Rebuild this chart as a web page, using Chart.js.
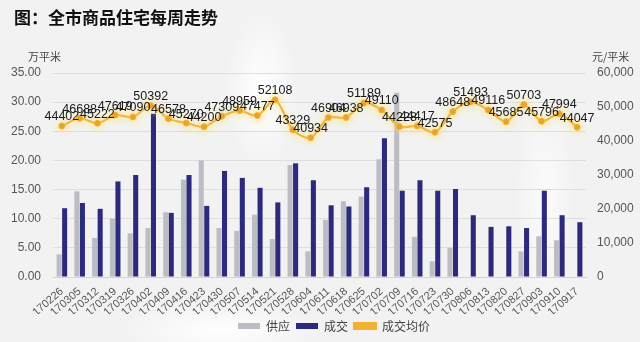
<!DOCTYPE html>
<html><head><meta charset="utf-8">
<script src="https://cdn.jsdelivr.net/npm/chart.js@4"></script>
<style>
html,body{margin:0;padding:0;background:#f3f3f3;}
#wrap{position:relative;width:640px;height:342px;overflow:hidden;background:
 radial-gradient(ellipse 38px 80px at 262px 90px,#ffffff,rgba(255,255,255,0)),
 radial-gradient(ellipse 100px 28px at 220px 330px,#ffffff,rgba(255,255,255,0)),
 radial-gradient(ellipse 30px 120px at 545px 200px,#fbfbfb,rgba(255,255,255,0)),
 #f2f2f2;}
#title{position:absolute;left:14px;top:4px;font:bold 17px "Noto Sans CJK SC";color:#111;}
.unit{position:absolute;top:48px;font:11px "Noto Sans CJK SC";color:#444;}
canvas{position:absolute;left:0;top:0;}
</style></head><body>
<div id="wrap">
<canvas id="c" width="640" height="342"></canvas>
<div id="title">图：全市商品住宅每周走势</div>
<div class="unit" style="left:28px">万平米</div>
<div class="unit" style="left:592px">元/平米</div>
</div>
<script>
const categories=["170226","170305","170312","170319","170326","170402","170409","170416","170423","170430","170507","170514","170521","170528","170604","170611","170618","170625","170702","170709","170716","170723","170730","170806","170813","170820","170827","170903","170910","170917"];
const supply=[3.9,14.7,6.7,10.0,7.5,8.4,11.1,16.7,20.0,8.4,7.9,10.7,6.5,19.2,4.4,9.8,13.0,13.8,20.2,31.6,6.9,2.7,5.0,0,0,0,4.4,7.0,6.3,0];
const deal=[11.8,12.7,11.7,16.4,17.5,28.0,11.0,17.5,12.2,18.2,17.0,15.3,12.8,19.5,16.6,12.3,12.1,15.4,23.8,14.8,16.6,14.8,15.1,10.6,8.6,8.7,8.4,14.8,10.6,9.4];
const price=[44402,46688,45222,47619,47090,50392,46578,45270,44200,47309,48959,47477,52108,43329,40934,46904,46938,51189,49110,44228,44417,42575,48648,51493,49116,45685,50703,45796,47994,44047];
const leftTicks=[0,5,10,15,20,25,30,35];
const rightTicks=[0,10000,20000,30000,40000,50000,60000];

const glow={id:'glow',
 beforeDatasetDraw(chart,args){if(args.index===2){const c=chart.ctx;c.save();c.shadowColor='rgba(255,220,110,1)';c.shadowBlur=8;}},
 afterDatasetDraw(chart,args){if(args.index===2){chart.ctx.restore();}}};
const labels={id:'plabels',
 afterDatasetsDraw(chart){const c=chart.ctx;const meta=chart.getDatasetMeta(2);c.save();
  c.font='12.5px "Liberation Sans"';c.fillStyle='#1a1a1a';c.textAlign='center';c.textBaseline='middle';
  meta.data.forEach((p,i)=>{c.fillText(String(price[i]),p.x,p.y-9);});c.restore();}};
const shiftLegend={id:'shiftLegend',afterLayout(chart){const l=chart.legend;if(l){l.left+=14;l.right+=14;}}};

new Chart(document.getElementById('c'),{
 data:{labels:categories,datasets:[
  {type:'bar',label:'供应',data:supply,backgroundColor:'#bcbcc4',yAxisID:'y',order:2,barPercentage:0.92,categoryPercentage:0.62},
  {type:'bar',label:'成交',data:deal,backgroundColor:'#2c2a7c',yAxisID:'y',order:2,barPercentage:0.92,categoryPercentage:0.62},
  {type:'line',label:'成交均价',data:price,borderColor:'#f1b233',backgroundColor:'#f1b233',borderWidth:2.2,pointRadius:3,pointBackgroundColor:'#e99b1f',pointBorderColor:'#f1b233',pointBorderWidth:1,tension:0.3,yAxisID:'y1',order:0}
 ]},
 options:{responsive:false,animation:false,
  layout:{padding:{top:73,left:0,right:0,bottom:0}},
  plugins:{legend:{position:'bottom',labels:{sort:(a,b)=>a.datasetIndex-b.datasetIndex,boxWidth:22,boxHeight:6,font:{family:'"Noto Sans CJK SC"',size:12},color:'#444',padding:6}},tooltip:{enabled:false}},
  scales:{
   x:{grid:{display:false},border:{display:true,color:'#d4d4d4'},ticks:{maxRotation:41,minRotation:41,autoSkip:false,color:'#555',font:{family:'"Liberation Sans"',size:11},padding:0},afterFit(s){s.height=37;}},
   y:{position:'left',min:0,max:35,afterBuildTicks(s){s.ticks=leftTicks.map(v=>({value:v}));},ticks:{callback:v=>v.toFixed(2),color:'#555',font:{family:'"Liberation Sans"',size:12},padding:12},grid:{color:'#dedede',drawTicks:false},border:{display:false},afterFit(s){s.width=53;}},
   y1:{position:'right',min:0,max:60000,afterBuildTicks(s){s.ticks=rightTicks.map(v=>({value:v}));},ticks:{color:'#555',font:{family:'"Liberation Sans"',size:12},padding:11},grid:{drawOnChartArea:false,drawTicks:false},border:{display:false},afterFit(s){s.width=54;}}
  }},
 plugins:[glow,labels,shiftLegend]
});
</script>
</body></html>
